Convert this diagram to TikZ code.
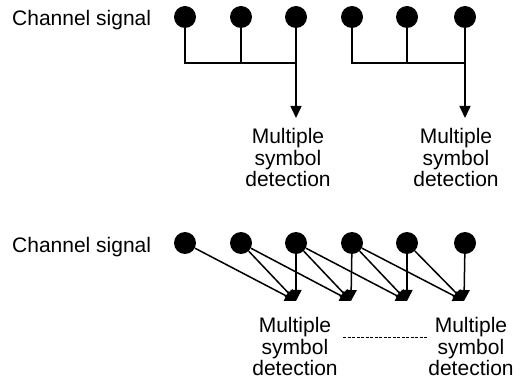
\documentclass[tikz,border=0pt]{standalone}
\usepackage{fontspec}
\setmainfont{Liberation Sans}
\usetikzlibrary{arrows.meta}
\begin{document}
\begin{tikzpicture}[x=1pt,y=-1pt,
  dot/.style={circle,fill=black,minimum size=22pt,inner sep=0pt},
  wire/.style={line width=1.5pt},
  arr/.style={wire,-{Triangle[width=11pt,length=12pt]}},
  arrs/.style={wire,-{Triangle[width=11pt,length=11pt]}},
  lbl/.style={font=\fontsize{21}{21.7}\selectfont,inner sep=0pt,align=center,anchor=north},
  chan/.style={font=\fontsize{21}{21.7}\selectfont,inner sep=0pt,anchor=base west}]
\useasboundingbox (0,0) rectangle (525,382);
% top
\node[chan] (c1) at (12,26) {Channel signal};
\foreach \i/\x in {1/185,2/241,3/296,4/352,5/407,6/465}{
  \node[dot] (a\i) at (\x,17) {};
  \node[dot] (b\i) at (\x,243) {};
}
\coordinate (j1) at (296,63);
\coordinate (j2) at (465,63);
\coordinate (k1) at (296,118);
\coordinate (k2) at (465,118);
\draw[wire] (a1) |- (j1);
\draw[wire] (a2) -- (a2 |- j1);
\draw[wire] (a3) -- (j1);
\draw[arr] (j1) -- (k1);
\draw[wire] (a4) |- (j2);
\draw[wire] (a5) -- (a5 |- j2);
\draw[wire] (a6) -- (j2);
\draw[arr] (j2) -- (k2);
\node[lbl] (t1) at (288,128) {Multiple\\symbol\\detection};
\node[lbl] (t2) at (456,128) {Multiple\\symbol\\detection};
% bottom
\node[chan] (c2) at (12,253) {Channel signal};
\coordinate (d1) at (296,301);
\coordinate (d2) at (351,301);
\coordinate (d3) at (407,301);
\coordinate (d4) at (464,301);
\draw[arrs] (b1) -- (d1);
\draw[arrs] (b2) -- (d1);
\draw[arrs] (b3) -- (d1);
\draw[arrs] (b2) -- (d2);
\draw[arrs] (b3) -- (d2);
\draw[arrs] (b4) -- (d2);
\draw[arrs] (b3) -- (d3);
\draw[arrs] (b4) -- (d3);
\draw[arrs] (b5) -- (d3);
\draw[arrs] (b4) -- (d4);
\draw[arrs] (b5) -- (d4);
\draw[arrs] (b6) -- (d4);
\node[lbl] (u1) at (295,317) {Multiple\\symbol\\detection};
\node[lbl] (u4) at (471,317) {Multiple\\symbol\\detection};
\draw[dashed,line width=0.6pt,dash pattern=on 3pt off 1.5pt] (343,337) -- (427,337);
\end{tikzpicture}
\end{document}
